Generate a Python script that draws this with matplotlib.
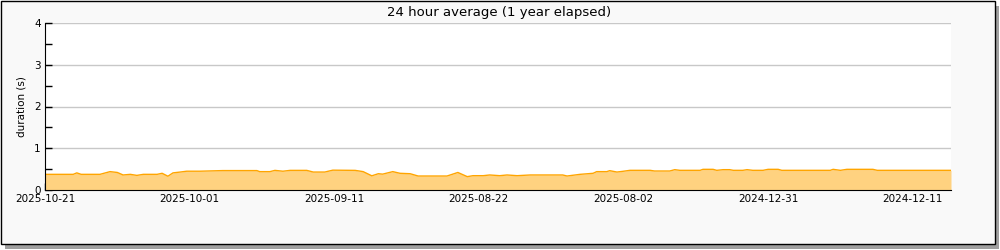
import matplotlib
matplotlib.use("Agg")
import matplotlib.pyplot as plt
from matplotlib.patches import Rectangle

# Breakpoints: days counted back from 2025-10-21, duration in seconds
days = [0, 3.9, 4.4, 5.0, 7.6, 9.0, 10.0, 10.8, 11.8, 12.7, 13.6, 15.5, 16.2, 17.0,
        17.7, 18.7, 19.6, 21.4, 24.6, 29.3, 29.7, 31.1, 31.8, 32.9, 33.9, 36.2, 37.1,
        38.7, 39.8, 42.9, 44.0, 45.2, 46.1, 46.7, 48.1, 49.1, 50.5, 51.6, 55.6, 57.1,
        58.4, 59.2, 60.6, 61.5, 62.9, 63.9, 65.3, 67.1, 71.6, 72.2, 74.0, 75.8, 76.3,
        77.7, 78.1, 79.1, 79.9, 80.9, 83.7, 84.3, 86.4, 87.1, 87.8, 90.6, 91.0, 92.4,
        92.9, 93.8, 94.7, 95.2, 96.5, 97.1, 97.9, 99.3, 100.0, 101.4, 101.9, 108.6,
        109.0, 110.0, 110.9, 114.5, 115.1, 125.3]
duration = [0.375, 0.375, 0.41, 0.375, 0.375, 0.44, 0.42, 0.36, 0.375, 0.35, 0.375,
            0.375, 0.40, 0.33, 0.41, 0.43, 0.45, 0.45, 0.465, 0.465, 0.44, 0.44, 0.47,
            0.45, 0.47, 0.47, 0.43, 0.43, 0.475, 0.47, 0.44, 0.34, 0.39, 0.38, 0.44,
            0.40, 0.39, 0.335, 0.335, 0.42, 0.32, 0.343, 0.343, 0.36, 0.343, 0.36,
            0.343, 0.36, 0.36, 0.335, 0.375, 0.40, 0.44, 0.44, 0.463, 0.43, 0.447,
            0.471, 0.471, 0.455, 0.455, 0.487, 0.471, 0.471, 0.495, 0.495, 0.471,
            0.487, 0.487, 0.471, 0.471, 0.487, 0.471, 0.471, 0.495, 0.495, 0.471,
            0.471, 0.495, 0.471, 0.495, 0.495, 0.471, 0.471]

tick_days = [0, 20, 40, 60, 80, 100, 120]
tick_labels = ["2025-10-21", "2025-10-01", "2025-09-11", "2025-08-22",
               "2025-08-02", "2024-12-31", "2024-12-11"]
y_ticks = [0, 1, 2, 3, 4]

fig = plt.figure(figsize=(10, 2.5), dpi=100)
fig.patch.set_facecolor("white")

# framed panel with drop shadow
fig.patches.append(Rectangle((5 / 1000, 1 / 250), 994 / 1000, 243 / 250,
                             transform=fig.transFigure, facecolor="#a0a0a0",
                             edgecolor="none", zorder=-3))
fig.patches.append(Rectangle((0.5 / 1000, 6 / 250), 994 / 1000, 243.5 / 250,
                             transform=fig.transFigure, facecolor="#f9f9f9",
                             edgecolor="black", linewidth=1, zorder=-2))

ax = fig.add_axes([45 / 1000, 60 / 250, 906 / 1000, 167 / 250])
ax.set_facecolor("white")
ax.fill_between(days, duration, 0, color="#ffd280", linewidth=0)
ax.plot(days, duration, color="#ffa500", linewidth=1)

ax.set_xlim(0, 125.3)
ax.set_ylim(0, 4)
ax.set_yticks(y_ticks)
ax.set_yticks([0.5, 1.5, 2.5, 3.5], minor=True)
ax.set_xticks(tick_days)
ax.set_xticklabels(tick_labels)
ax.set_xticks([10, 30, 50, 70, 90, 110], minor=True)
ax.grid(axis="y", color="#c8c8c8", linewidth=1)
ax.set_axisbelow(True)

for side in ("top", "right"):
    ax.spines[side].set_visible(False)
ax.spines["left"].set_color("black")
ax.spines["bottom"].set_color("black")
ax.spines["bottom"].set_zorder(5)
ax.tick_params(which="both", direction="in", length=5, width=1, labelsize=7.5,
               colors="black", pad=3)

fig.text(499 / 1000, 1 - 12.5 / 250, "24 hour average (1 year elapsed)",
         fontsize=9.5, ha="center", va="center")
fig.text(21 / 1000, 1 - 106.5 / 250, "duration (s)", rotation=90, fontsize=7.5,
         ha="center", va="center")

fig.savefig("out.png", dpi=100)
